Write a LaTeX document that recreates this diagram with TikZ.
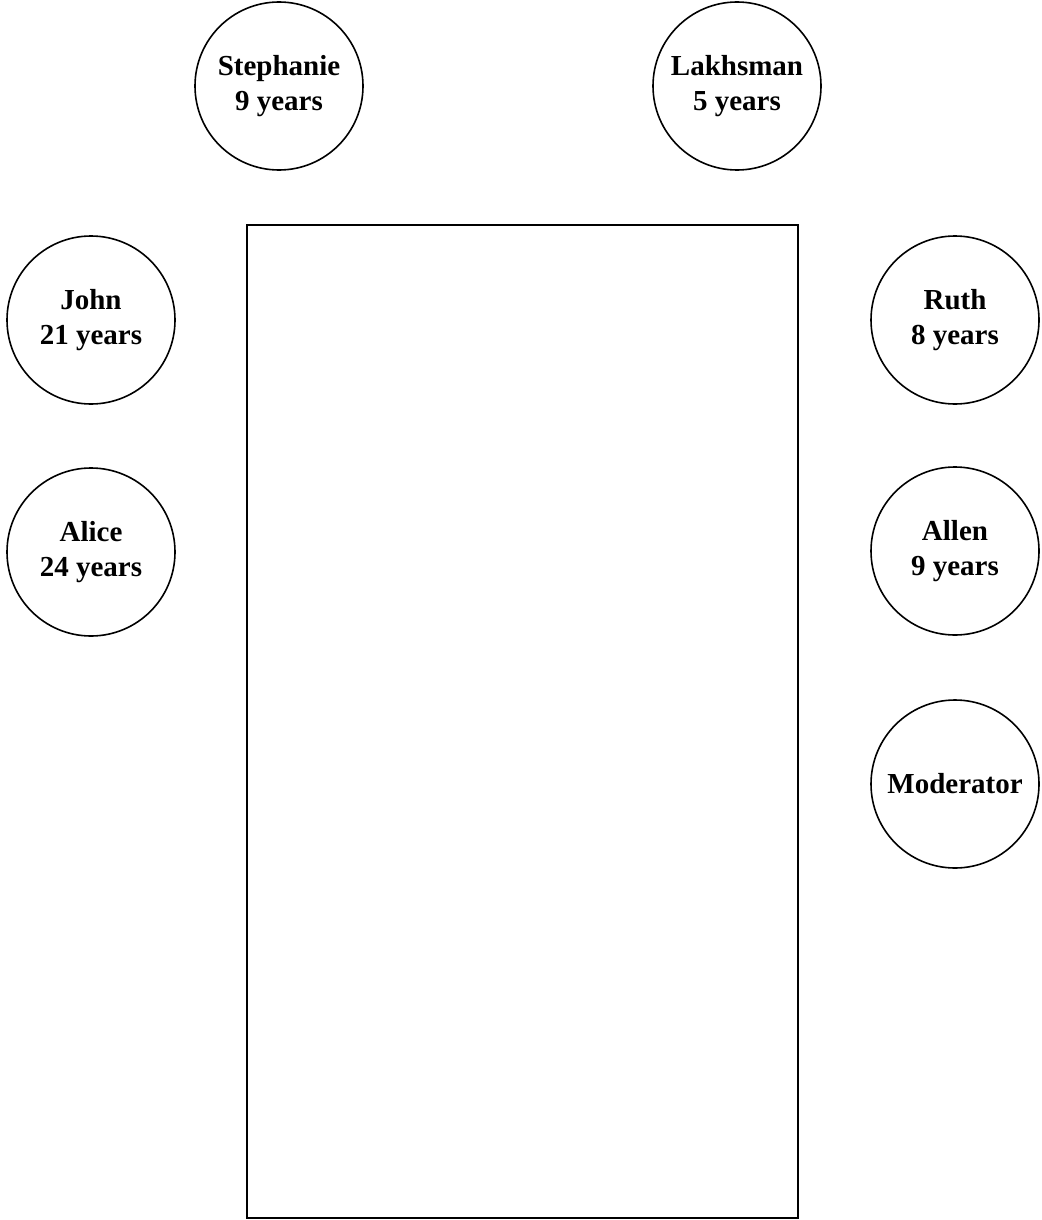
\documentclass[tikz,border=0pt]{standalone}
\usepackage{fontspec}
\setmainfont{Liberation Serif}
\begin{document}
\begin{tikzpicture}[x=1pt,y=-1pt,
  person/.style={draw, circle, line width=1.6pt, minimum size=168pt, inner sep=0pt,
    align=center, font=\fontsize{29}{35}\selectfont\bfseries},
  tablebox/.style={draw, line width=1.8pt}]
\useasboundingbox (0,0) rectangle (1041,1220);
\node[person] (stephanie) at (279,86) {Stephanie\\9 years};
\node[person] (lakhsman) at (737,86) {Lakhsman\\5 years};
\node[person] (john) at (91,320) {John\\21 years};
\node[person] (ruth) at (955,320) {Ruth\\8 years};
\node[person] (alice) at (91,552) {Alice\\24 years};
\node[person] (allen) at (955,551) {Allen\\9 years};
\node[person] (moderator) at (955,784) {Moderator};
\draw[tablebox] (247,225) rectangle (798,1218);
\end{tikzpicture}
\end{document}
